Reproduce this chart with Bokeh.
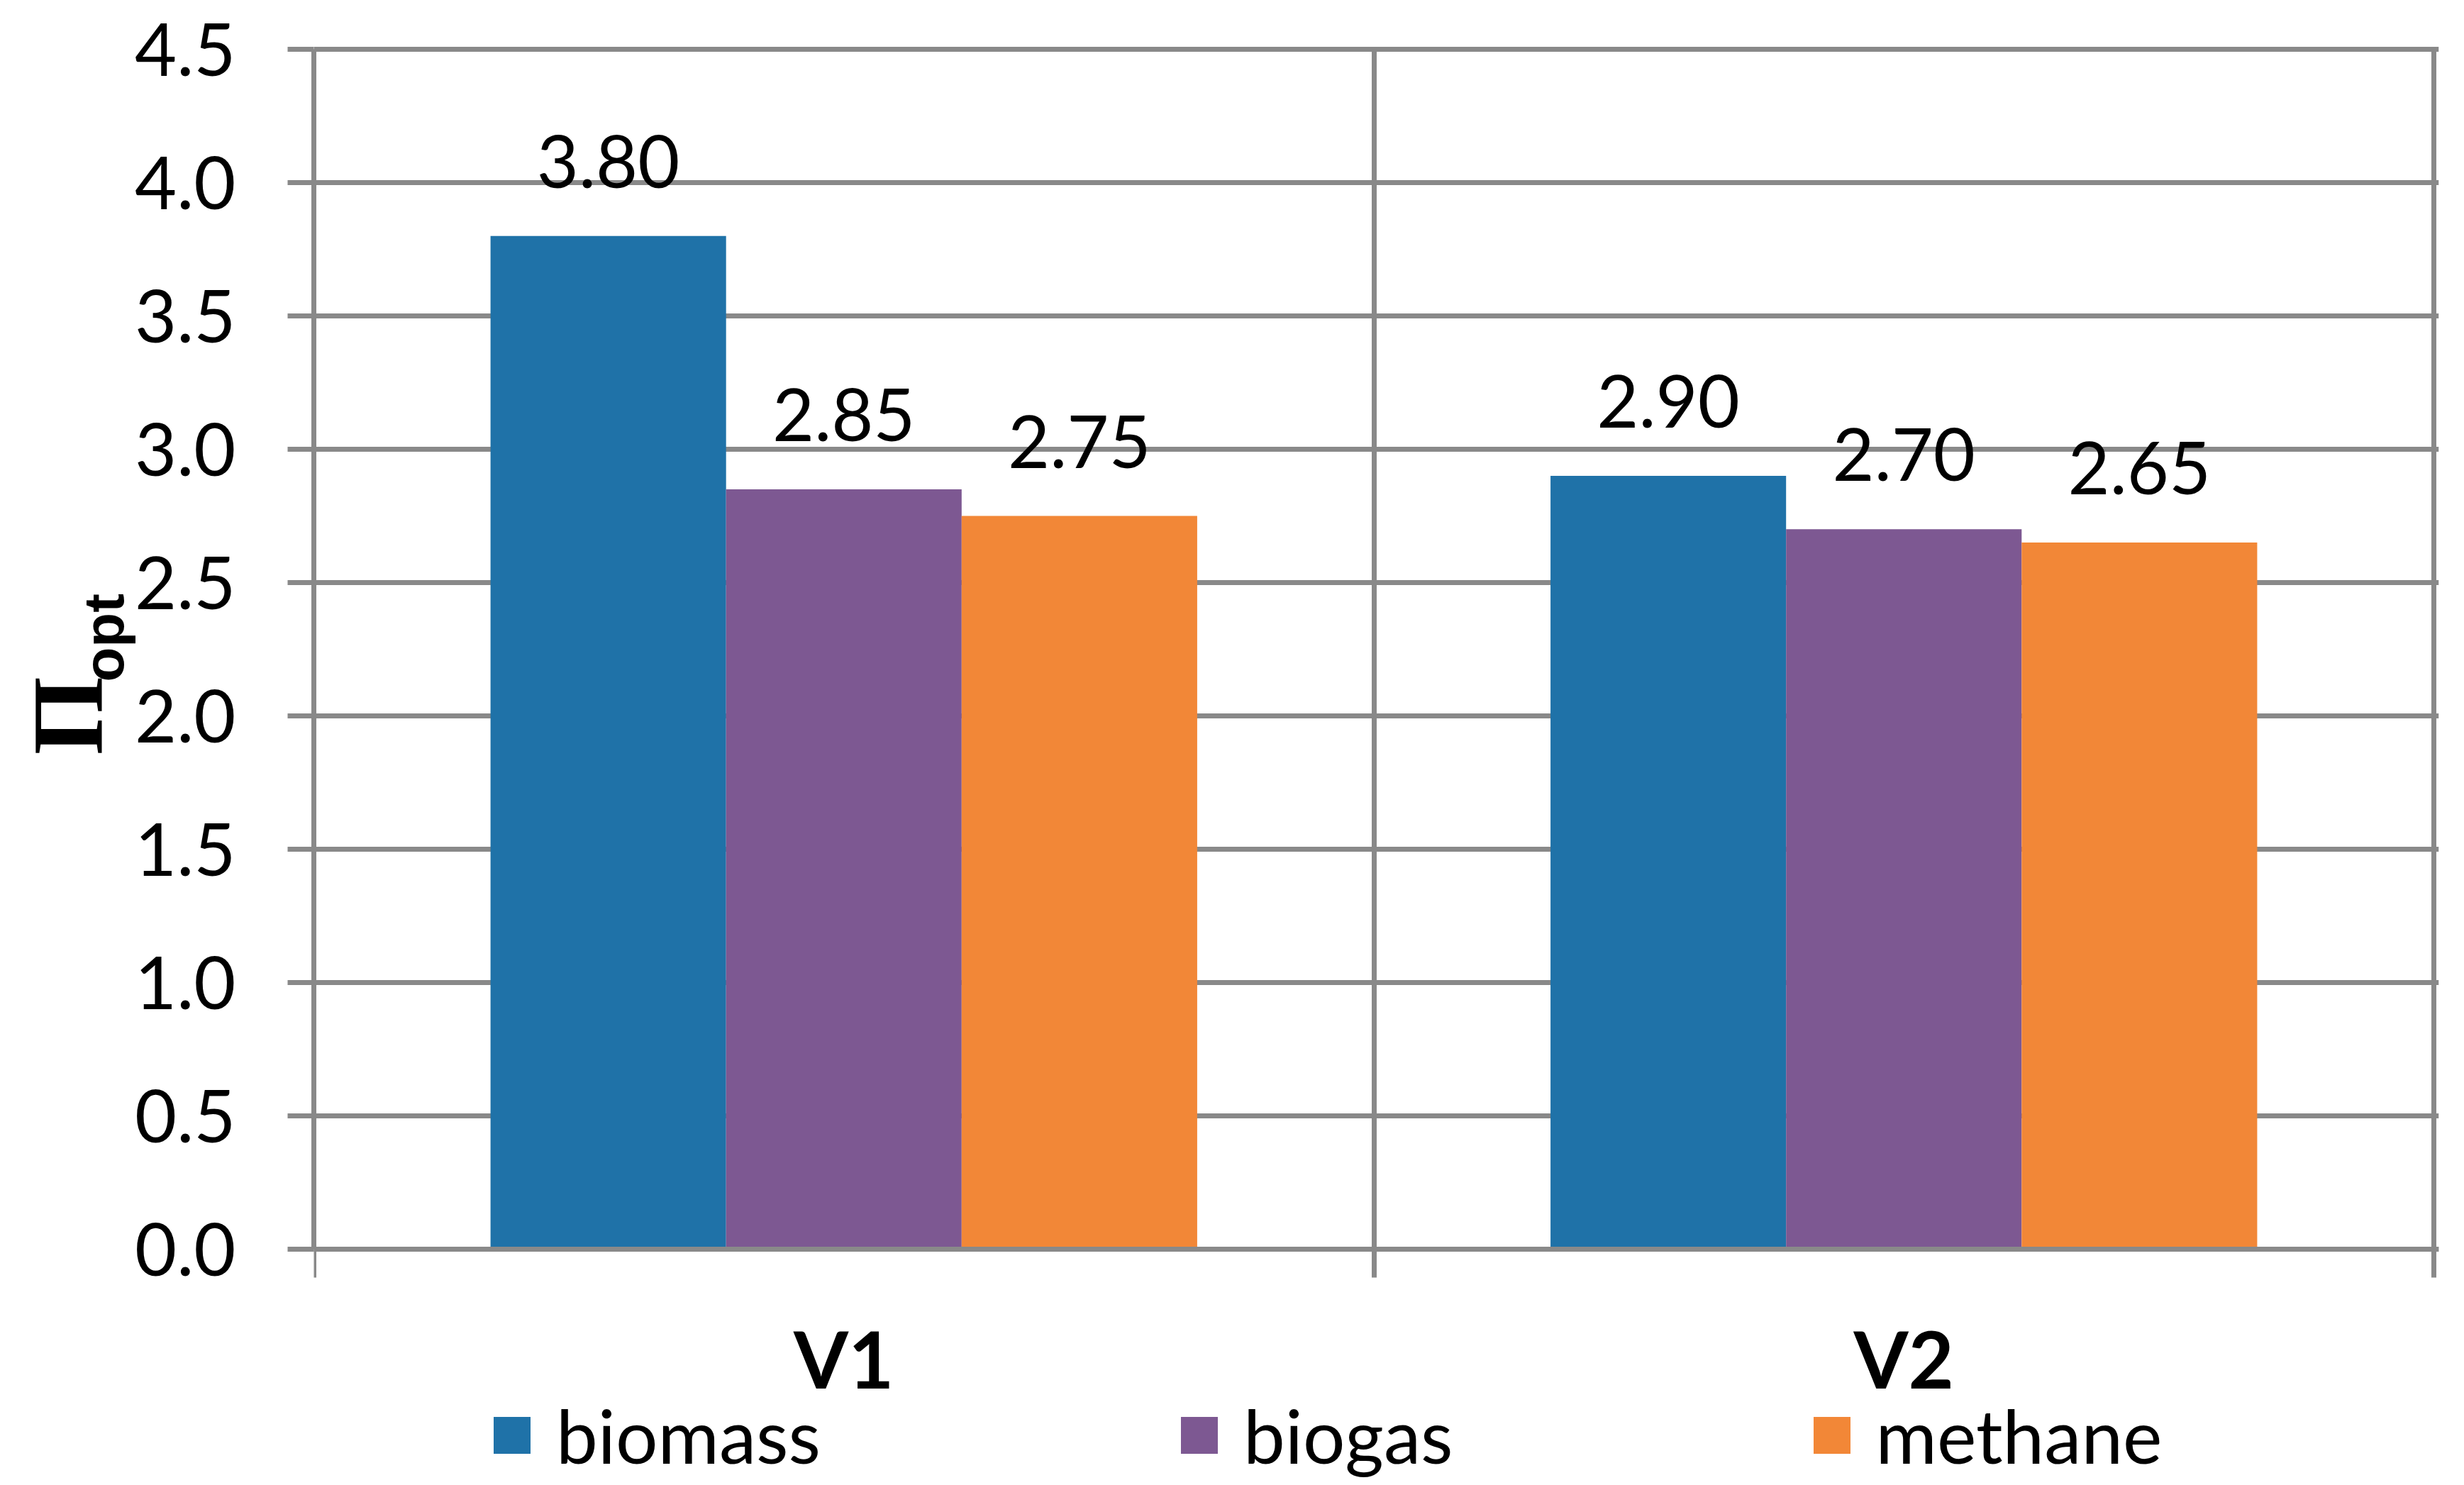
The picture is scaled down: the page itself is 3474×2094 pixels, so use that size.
from bokeh.plotting import figure
from bokeh.models import (Range1d, FixedTicker, PrintfTickFormatter, Legend,
                          LegendItem, ColumnDataSource, Title)
from bokeh.embed import file_html
from bokeh.resources import INLINE
from bokeh.core.properties import value

# ---------------- data ----------------
categories = ["V1", "V2"]
series = ["biomass", "biogas", "methane"]
biomass = [3.80, 2.90]
biogas = [2.85, 2.70]
methane = [2.75, 2.65]
y_ticks = [0.0, 0.5, 1.0, 1.5, 2.0, 2.5, 3.0, 3.5, 4.0, 4.5]
x_bounds = [0, 1, 2]
x_centers = [0.5, 1.5]
colors = ["#1F72A8", "#7D5892", "#F28737"]

# ---------------- geometry ----------------
W, H = 3458, 2086
FL, FT = 442, 62
FW = 2996
FH = H - FT
Y0 = 1761                      # pixel row of y = 0
UX = 1494.5
UY = 376.0
GRID = "#898989"

p = figure(frame_width=FW, frame_height=FH,
           x_range=Range1d(0, FW / UX),
           y_range=Range1d(-(H - Y0) / UY, (Y0 - FT) / UY),
           output_backend="svg", toolbar_location=None,
           min_border_left=FL, min_border_right=W - FL - FW, min_border_top=FT,
           min_border_bottom=0)
p.outline_line_color = None
p.background_fill_color = "white"
p.border_fill_color = "white"

# horizontal grid
p.ygrid.ticker = FixedTicker(ticks=y_ticks)
p.ygrid.grid_line_color = GRID
p.ygrid.grid_line_width = 7
p.xgrid.grid_line_color = None

# y axis
p.yaxis.bounds = (y_ticks[0], y_ticks[-1])
p.yaxis.ticker = FixedTicker(ticks=y_ticks)
p.yaxis.formatter = PrintfTickFormatter(format="%.1f")
p.yaxis.axis_line_color = GRID
p.yaxis.axis_line_width = 7
p.yaxis.major_tick_line_color = GRID
p.yaxis.major_tick_line_width = 7
p.yaxis.major_tick_out = 37
p.yaxis.major_tick_in = 0
p.yaxis.minor_tick_line_color = None
p.yaxis.major_label_standoff = 73
p.yaxis.major_label_text_font = "Lato"
p.yaxis.major_label_text_font_size = "102px"
p.yaxis.major_label_text_color = "black"

# x axis at y = 0; boundary ticks run up as the vertical grid lines
p.xaxis.fixed_location = 0
p.xaxis.ticker = FixedTicker(ticks=x_centers, minor_ticks=x_bounds)
p.xaxis.major_label_overrides = {x_centers[i]: c for i, c in enumerate(categories)}
p.xaxis.axis_line_color = GRID
p.xaxis.axis_line_width = 7
p.xaxis.major_tick_line_color = None
p.xaxis.major_tick_out = 0
p.xaxis.major_tick_in = 0
p.xaxis.minor_tick_line_color = GRID
p.xaxis.minor_tick_line_width = 7
p.xaxis.minor_tick_out = 40
p.xaxis.minor_tick_in = int(round(y_ticks[-1] * UY))
p.xaxis.major_label_standoff = 46
p.xaxis.major_label_text_font = "Lato"
p.xaxis.major_label_text_font_style = "bold"
p.xaxis.major_label_text_font_size = "111px"
p.xaxis.major_label_text_color = "black"

# bars + data labels
bar_w = 1 / 4.5
values = [biomass, biogas, methane]
renderers = []
for k, (name, vals, col) in enumerate(zip(series, values, colors)):
    xs = [i + 0.5 + (k - 1) * bar_w for i in range(len(categories))]
    src = ColumnDataSource(dict(x=xs, top=vals, label=[f"{v:.2f}" for v in vals]))
    r = p.vbar(x="x", top="top", bottom=0, width=bar_w, source=src,
               fill_color=col, line_color=None)
    renderers.append(r)
    p.text(x="x", y="top", text="label", source=src, text_align="center",
           text_baseline="alphabetic", y_offset=-105, text_font=value("Lato"),
           text_font_size="102px", text_color="black")

# legend (inside the extended frame, below the axis)
LH = 132
ROW_CENTER = 2023
leg = Legend(items=[LegendItem(label=n, renderers=[r]) for n, r in zip(series, renderers)],
             location=(247, H - ROW_CENTER - LH // 2), orientation="horizontal",
             padding=0, margin=0, spacing=501, border_line_color=None,
             background_fill_alpha=0, glyph_width=65, glyph_height=65,
             label_standoff=30, label_height=LH,
             label_text_font="Lato", label_text_font_size="105px",
             label_text_baseline="alphabetic", label_text_color="black")
p.add_layout(leg)

# y axis title  Π_opt  (side titles with offsets)
p.add_layout(Title(text="opt", align="left", vertical_align="bottom",
                   offset=H - 961, standoff=-6, text_font="Liberation Sans",
                   text_font_style="bold", text_font_size="80px",
                   text_color="black"), "left")
p.add_layout(Title(text="Π", align="left", vertical_align="bottom",
                   offset=H - 1064, standoff=-142, text_font="Liberation Serif",
                   text_font_style="bold", text_font_size="142px",
                   text_color="black"), "left")

open("out.html", "w").write(file_html(p, INLINE))
